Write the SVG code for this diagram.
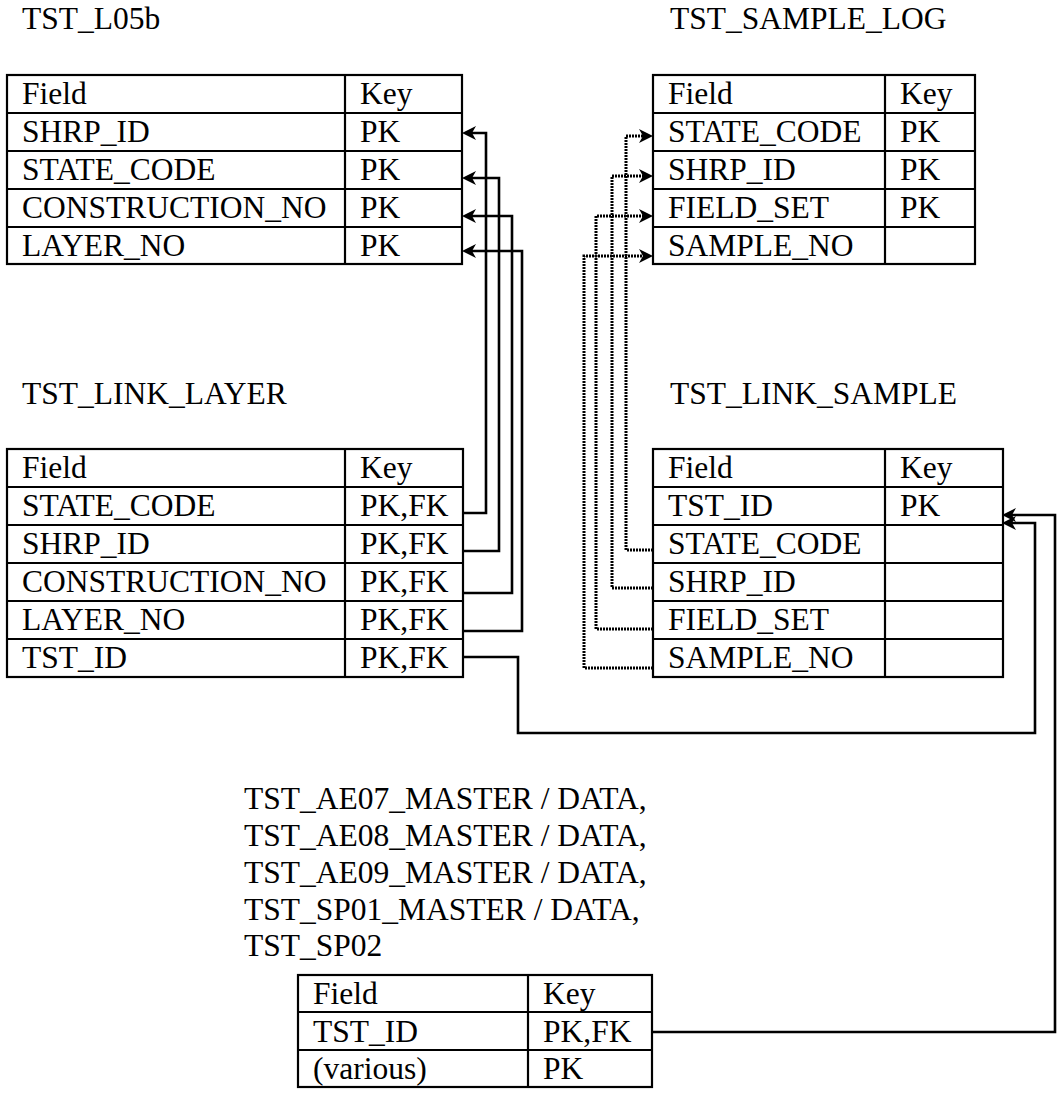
<svg xmlns="http://www.w3.org/2000/svg" width="1057" height="1093" viewBox="0 0 1057 1093">
<defs>
<style>
text{font-family:'Liberation Serif','Times New Roman',Tinos,'DejaVu Serif',serif;font-size:31.5px;fill:#000}
.tbl rect,.tbl line{fill:none;stroke:#000;stroke-width:2.2}
.c{fill:none;stroke:#000;stroke-width:2.6}
.d{fill:none;stroke:#000;stroke-width:3;stroke-dasharray:2 1}
</style>
<marker id="ah" viewBox="0 -7 14 14" markerWidth="14" markerHeight="14" refX="8" refY="0" orient="auto" markerUnits="userSpaceOnUse">
<path d="M14,0 L0,-7 L4,0 L0,7 Z" fill="#000"/>
</marker>
</defs>
<rect width="1057" height="1093" fill="#fff"/>

<g id="tst_l05b" class="tbl">
<text x="22" y="29">TST_L05b</text>
<rect x="7" y="75" width="455" height="189"/>
<line x1="345" y1="75" x2="345" y2="264"/>
<line x1="7" y1="113" x2="462" y2="113"/>
<line x1="7" y1="151" x2="462" y2="151"/>
<line x1="7" y1="189" x2="462" y2="189"/>
<line x1="7" y1="227" x2="462" y2="227"/>
<text x="22" y="104">Field</text><text x="360" y="104">Key</text>
<text x="22" y="142">SHRP_ID</text><text x="360" y="142">PK</text>
<text x="22" y="180">STATE_CODE</text><text x="360" y="180">PK</text>
<text x="22" y="218">CONSTRUCTION_NO</text><text x="360" y="218">PK</text>
<text x="22" y="256">LAYER_NO</text><text x="360" y="256">PK</text>
</g>

<g id="tst_sample_log" class="tbl">
<text x="670" y="29">TST_SAMPLE_LOG</text>
<rect x="653" y="75" width="322" height="189"/>
<line x1="885" y1="75" x2="885" y2="264"/>
<line x1="653" y1="113" x2="975" y2="113"/>
<line x1="653" y1="151" x2="975" y2="151"/>
<line x1="653" y1="189" x2="975" y2="189"/>
<line x1="653" y1="227" x2="975" y2="227"/>
<text x="668" y="104">Field</text><text x="900" y="104">Key</text>
<text x="668" y="142">STATE_CODE</text><text x="900" y="142">PK</text>
<text x="668" y="180">SHRP_ID</text><text x="900" y="180">PK</text>
<text x="668" y="218">FIELD_SET</text><text x="900" y="218">PK</text>
<text x="668" y="256">SAMPLE_NO</text>
</g>

<g id="tst_link_layer" class="tbl">
<text x="22" y="404">TST_LINK_LAYER</text>
<rect x="7" y="449" width="456" height="228"/>
<line x1="345" y1="449" x2="345" y2="677"/>
<line x1="7" y1="487" x2="463" y2="487"/>
<line x1="7" y1="525" x2="463" y2="525"/>
<line x1="7" y1="563" x2="463" y2="563"/>
<line x1="7" y1="601" x2="463" y2="601"/>
<line x1="7" y1="639" x2="463" y2="639"/>
<text x="22" y="478">Field</text><text x="360" y="478">Key</text>
<text x="22" y="516">STATE_CODE</text><text x="360" y="516">PK,FK</text>
<text x="22" y="554">SHRP_ID</text><text x="360" y="554">PK,FK</text>
<text x="22" y="592">CONSTRUCTION_NO</text><text x="360" y="592">PK,FK</text>
<text x="22" y="630">LAYER_NO</text><text x="360" y="630">PK,FK</text>
<text x="22" y="668">TST_ID</text><text x="360" y="668">PK,FK</text>
</g>

<g id="tst_link_sample" class="tbl">
<text x="670" y="404">TST_LINK_SAMPLE</text>
<rect x="653" y="449" width="350" height="228"/>
<line x1="885" y1="449" x2="885" y2="677"/>
<line x1="653" y1="487" x2="1003" y2="487"/>
<line x1="653" y1="525" x2="1003" y2="525"/>
<line x1="653" y1="563" x2="1003" y2="563"/>
<line x1="653" y1="601" x2="1003" y2="601"/>
<line x1="653" y1="639" x2="1003" y2="639"/>
<text x="668" y="478">Field</text><text x="900" y="478">Key</text>
<text x="668" y="516">TST_ID</text><text x="900" y="516">PK</text>
<text x="668" y="554">STATE_CODE</text>
<text x="668" y="592">SHRP_ID</text>
<text x="668" y="630">FIELD_SET</text>
<text x="668" y="668">SAMPLE_NO</text>
</g>

<g id="tst_ae_sp" class="tbl">
<text x="244" y="809">TST_AE07_MASTER / DATA,</text>
<text x="244" y="846">TST_AE08_MASTER / DATA,</text>
<text x="244" y="883">TST_AE09_MASTER / DATA,</text>
<text x="244" y="920">TST_SP01_MASTER / DATA,</text>
<text x="244" y="956">TST_SP02</text>
<rect x="298" y="975" width="354" height="112"/>
<line x1="528" y1="975" x2="528" y2="1087"/>
<line x1="298" y1="1012" x2="652" y2="1012"/>
<line x1="298" y1="1050" x2="652" y2="1050"/>
<text x="313" y="1004">Field</text><text x="543" y="1004">Key</text>
<text x="313" y="1042">TST_ID</text><text x="543" y="1042">PK,FK</text>
<text x="313" y="1079">(various)</text><text x="543" y="1079">PK</text>
</g>

<g id="connectors">
<path class="c" d="M463,513 H486 V133 H468" marker-end="url(#ah)"/>
<path class="c" d="M463,551 H499 V178 H468" marker-end="url(#ah)"/>
<path class="c" d="M463,593 H512 V216 H468" marker-end="url(#ah)"/>
<path class="c" d="M463,631 H522 V251 H468" marker-end="url(#ah)"/>
<path class="c" d="M463,657 H518 V733 H1035 V523 H1008" marker-end="url(#ah)"/>
<path class="c" d="M652,1032 H1055 V515 H1008" marker-end="url(#ah)"/>
<path class="d" d="M653,550 H626 V136 H647" marker-end="url(#ah)"/>
<path class="d" d="M653,588 H612 V176 H647" marker-end="url(#ah)"/>
<path class="d" d="M653,629 H596 V216 H647" marker-end="url(#ah)"/>
<path class="d" d="M653,668 H584 V256 H647" marker-end="url(#ah)"/>
</g>
</svg>
